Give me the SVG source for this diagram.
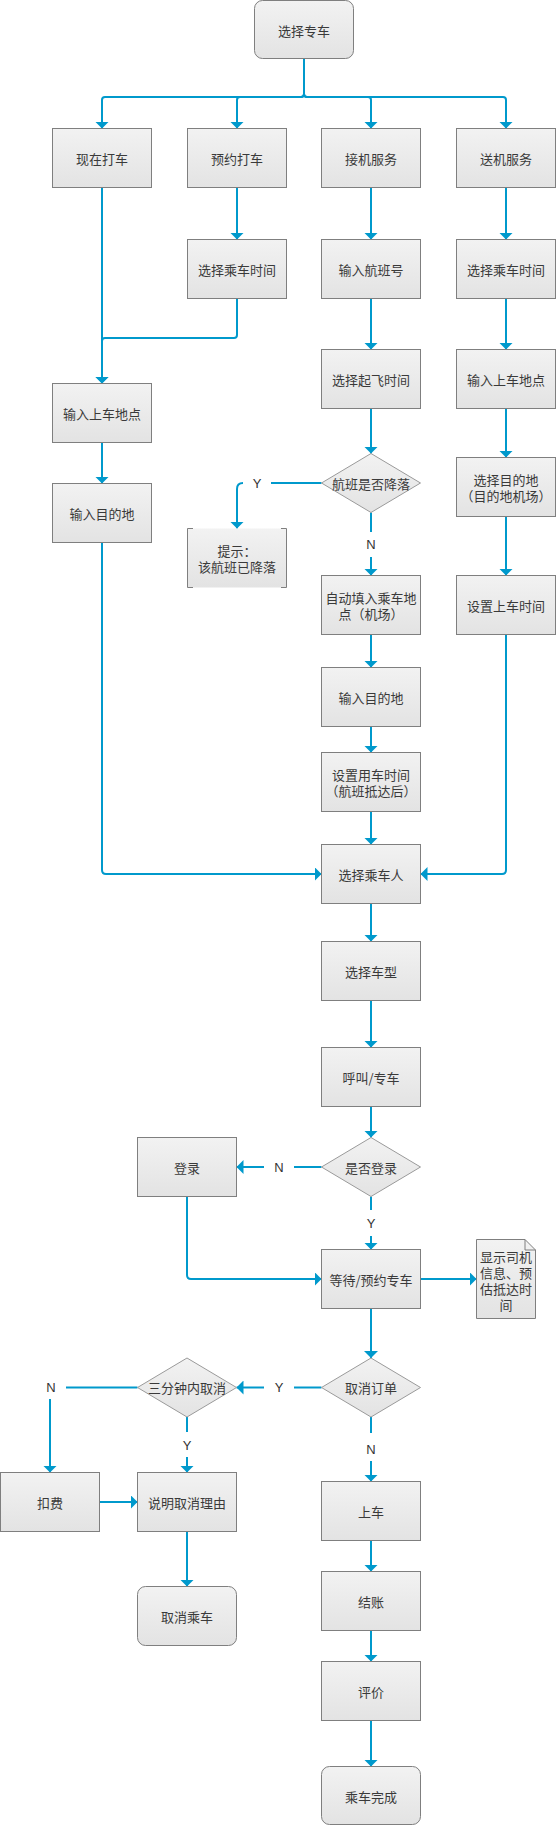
<svg xmlns="http://www.w3.org/2000/svg" width="556" height="1826" viewBox="0 0 556 1826">
<style>
.b{fill:url(#g);stroke:#7f7f7f;stroke-width:1}
.d{fill:url(#g);stroke:#9a9a9a;stroke-width:1}
.t{font-family:"Noto Sans CJK SC","Noto Sans",sans-serif;font-size:13px;fill:#3a3a3a;text-anchor:middle;dominant-baseline:central}
.l{font-family:"Liberation Sans",Arial,sans-serif;font-size:13px;fill:#333;text-anchor:middle;dominant-baseline:central}
.c{fill:none;stroke:#0099cc;stroke-width:2}
.a{marker-end:url(#ar)}
</style>
<defs>
<linearGradient id="g" x1="0" y1="0" x2="0" y2="1">
<stop offset="0" stop-color="#f2f2f2"/>
<stop offset="1" stop-color="#e3e3e3"/>
</linearGradient>
<marker id="ar" viewBox="0 0 7 14" refX="7" refY="7" markerWidth="7" markerHeight="14" orient="auto" markerUnits="userSpaceOnUse">
<path d="M0,0 L7,7 L0,14 Z" fill="#0099cc"/>
</marker>
</defs>
<rect width="556" height="1826" fill="#fff"/>

<g id="connectors">
<path class="c a" d="M304,59 V94 Q304,97 301,97 H105 Q102,97 102,100 V128.5"/>
<path class="c a" d="M304,59 V94 Q304,97 301,97 H240 Q237,97 237,100 V128.5"/>
<path class="c a" d="M304,59 V94 Q304,97 307,97 H368 Q371,97 371,100 V128.5"/>
<path class="c a" d="M304,59 V94 Q304,97 307,97 H503 Q506,97 506,100 V128.5"/>
<path class="c a" d="M102,187.5 V383.5"/>
<path class="c a" d="M237,187.5 V239.5"/>
<path class="c a" d="M237,298.5 V335 Q237,338 234,338 H105 Q102,338 102,341 V383.5"/>
<path class="c a" d="M371,187.5 V239.5"/>
<path class="c a" d="M371,298.5 V349.5"/>
<path class="c a" d="M371,408.5 V453.5"/>
<path class="c a" d="M506,187.5 V239.5"/>
<path class="c a" d="M506,298.5 V349.5"/>
<path class="c a" d="M506,408.5 V457.5"/>
<path class="c a" d="M506,516.5 V575.5"/>
<path class="c a" d="M102,442.5 V483.5"/>
<path class="c" d="M321.5,483 H271"/>
<path class="c a" d="M243,483 Q237,483 237,489 V528.5"/>
<path class="c" d="M371,512.5 V532"/>
<path class="c a" d="M371,557 V575.5"/>
<path class="c a" d="M371,634.5 V667.5"/>
<path class="c a" d="M371,726.5 V752.5"/>
<path class="c a" d="M371,811.5 V844.5"/>
<path class="c a" d="M102,542.5 V870 Q102,874 106,874 H321.5"/>
<path class="c a" d="M506,634.5 V870 Q506,874 502,874 H420.5"/>
<path class="c a" d="M371,903.5 V941.5"/>
<path class="c a" d="M371,1000.5 V1047.5"/>
<path class="c a" d="M371,1106.5 V1137.5"/>
<path class="c" d="M321.5,1167 H294"/>
<path class="c a" d="M264,1167 H236.5"/>
<path class="c" d="M371,1196.5 V1210"/>
<path class="c a" d="M371,1236 V1249.5"/>
<path class="c a" d="M187,1196.5 V1275 Q187,1279 191,1279 H321.5"/>
<path class="c a" d="M420.5,1279 H476.5"/>
<path class="c a" d="M371,1308.5 V1358"/>
<path class="c" d="M321.5,1387.5 H294"/>
<path class="c a" d="M264,1387.5 H236.5"/>
<path class="c" d="M137.5,1387.5 H66"/>
<path class="c a" d="M50,1399 V1472.5"/>
<path class="c" d="M187,1417 V1432"/>
<path class="c a" d="M187,1457 V1472.5"/>
<path class="c a" d="M99.5,1502 H137.5"/>
<path class="c a" d="M187,1531.5 V1586.5"/>
<path class="c" d="M371,1417 V1433"/>
<path class="c a" d="M371,1461 V1481.5"/>
<path class="c a" d="M371,1540.5 V1571.5"/>
<path class="c a" d="M371,1630.5 V1661.5"/>
<path class="c a" d="M371,1720.5 V1766.5"/>
<text class="l" x="257" y="483">Y</text>
<text class="l" x="371" y="544">N</text>
<text class="l" x="279" y="1167">N</text>
<text class="l" x="371" y="1223">Y</text>
<text class="l" x="279" y="1387.5">Y</text>
<text class="l" x="51" y="1387.5">N</text>
<text class="l" x="187" y="1445">Y</text>
<text class="l" x="371" y="1449">N</text>
</g>

<g id="n_start"><rect class="b" x="254.5" y="0.5" width="99" height="58" rx="8"/><text class="t" x="304" y="30">选择专车</text></g>
<g id="n_now"><rect class="b" x="52.5" y="128.5" width="99" height="59"/><text class="t" x="102" y="158">现在打车</text></g>
<g id="n_book"><rect class="b" x="187.5" y="128.5" width="99" height="59"/><text class="t" x="237" y="158">预约打车</text></g>
<g id="n_pickup"><rect class="b" x="321.5" y="128.5" width="99" height="59"/><text class="t" x="371" y="158">接机服务</text></g>
<g id="n_dropoff"><rect class="b" x="456.5" y="128.5" width="99" height="59"/><text class="t" x="506" y="158">送机服务</text></g>

<g id="n_time2"><rect class="b" x="187.5" y="239.5" width="99" height="59"/><text class="t" x="237" y="269">选择乘车时间</text></g>
<g id="n_flight"><rect class="b" x="321.5" y="239.5" width="99" height="59"/><text class="t" x="371" y="269">输入航班号</text></g>
<g id="n_time4"><rect class="b" x="456.5" y="239.5" width="99" height="59"/><text class="t" x="506" y="269">选择乘车时间</text></g>

<g id="n_takeoff"><rect class="b" x="321.5" y="349.5" width="99" height="59"/><text class="t" x="371" y="379">选择起飞时间</text></g>
<g id="n_loc4"><rect class="b" x="456.5" y="349.5" width="99" height="59"/><text class="t" x="506" y="379">输入上车地点</text></g>
<g id="n_loc1"><rect class="b" x="52.5" y="383.5" width="99" height="59"/><text class="t" x="102" y="413">输入上车地点</text></g>

<g id="n_landed"><polygon class="d" points="371,453.5 420.5,483 371,512.5 321.5,483"/><text class="t" x="371" y="483">航班是否降落</text></g>
<g id="n_dest1"><rect class="b" x="52.5" y="483.5" width="99" height="59"/><text class="t" x="102" y="513">输入目的地</text></g>
<g id="n_dest4"><rect class="b" x="456.5" y="457.5" width="99" height="59"/><text class="t" x="506" y="479">选择目的地</text><text class="t" x="506" y="495">（目的地机场）</text></g>

<g id="n_tip"><rect x="187.5" y="528.5" width="99" height="59" fill="url(#g)"/><path d="M193,528.5 H187.5 V587.5 H193 M281,528.5 H286.5 V587.5 H281" fill="none" stroke="#7f7f7f" stroke-width="1"/><text class="t" x="237" y="550">提示：</text><text class="t" x="237" y="566">该航班已降落</text></g>

<g id="n_auto"><rect class="b" x="321.5" y="575.5" width="99" height="59"/><text class="t" x="371" y="597">自动填入乘车地</text><text class="t" x="371" y="613">点（机场）</text></g>
<g id="n_settime4"><rect class="b" x="456.5" y="575.5" width="99" height="59"/><text class="t" x="506" y="605">设置上车时间</text></g>
<g id="n_dest3"><rect class="b" x="321.5" y="667.5" width="99" height="59"/><text class="t" x="371" y="697">输入目的地</text></g>
<g id="n_usetime"><rect class="b" x="321.5" y="752.5" width="99" height="59"/><text class="t" x="371" y="774">设置用车时间</text><text class="t" x="371" y="790">（航班抵达后）</text></g>
<g id="n_passenger"><rect class="b" x="321.5" y="844.5" width="99" height="59"/><text class="t" x="371" y="874">选择乘车人</text></g>
<g id="n_cartype"><rect class="b" x="321.5" y="941.5" width="99" height="59"/><text class="t" x="371" y="971">选择车型</text></g>
<g id="n_call"><rect class="b" x="321.5" y="1047.5" width="99" height="59"/><text class="t" x="371" y="1077">呼叫/专车</text></g>
<g id="n_logged"><polygon class="d" points="371,1137.5 420.5,1167 371,1196.5 321.5,1167"/><text class="t" x="371" y="1167">是否登录</text></g>
<g id="n_login"><rect class="b" x="137.5" y="1137.5" width="99" height="59"/><text class="t" x="187" y="1167">登录</text></g>
<g id="n_wait"><rect class="b" x="321.5" y="1249.5" width="99" height="59"/><text class="t" x="371" y="1279">等待/预约专车</text></g>
<g id="n_info"><path class="b" d="M476.5,1239.5 H525 L535.5,1250 V1318.5 H476.5 Z"/><path d="M525,1239.5 V1250 H535.5" fill="none" stroke="#7f7f7f" stroke-width="1"/><text class="t" x="506" y="1256">显示司机</text><text class="t" x="506" y="1272">信息、预</text><text class="t" x="506" y="1288">估抵达时</text><text class="t" x="506" y="1304">间</text></g>
<g id="n_cancel"><polygon class="d" points="371,1358 420.5,1387.5 371,1417 321.5,1387.5"/><text class="t" x="371" y="1387.5">取消订单</text></g>
<g id="n_3min"><polygon class="d" points="187,1358 236.5,1387.5 187,1417 137.5,1387.5"/><text class="t" x="187" y="1387.5">三分钟内取消</text></g>
<g id="n_fee"><rect class="b" x="0.5" y="1472.5" width="99" height="59"/><text class="t" x="50" y="1502">扣费</text></g>
<g id="n_reason"><rect class="b" x="137.5" y="1472.5" width="99" height="59"/><text class="t" x="187" y="1502">说明取消理由</text></g>
<g id="n_cancelride"><rect class="b" x="137.5" y="1586.5" width="99" height="59" rx="8"/><text class="t" x="187" y="1616">取消乘车</text></g>
<g id="n_board"><rect class="b" x="321.5" y="1481.5" width="99" height="59"/><text class="t" x="371" y="1511">上车</text></g>
<g id="n_pay"><rect class="b" x="321.5" y="1571.5" width="99" height="59"/><text class="t" x="371" y="1601">结账</text></g>
<g id="n_rate"><rect class="b" x="321.5" y="1661.5" width="99" height="59"/><text class="t" x="371" y="1691">评价</text></g>
<g id="n_done"><rect class="b" x="321.5" y="1766.5" width="99" height="58" rx="8"/><text class="t" x="371" y="1796">乘车完成</text></g>
</svg>
